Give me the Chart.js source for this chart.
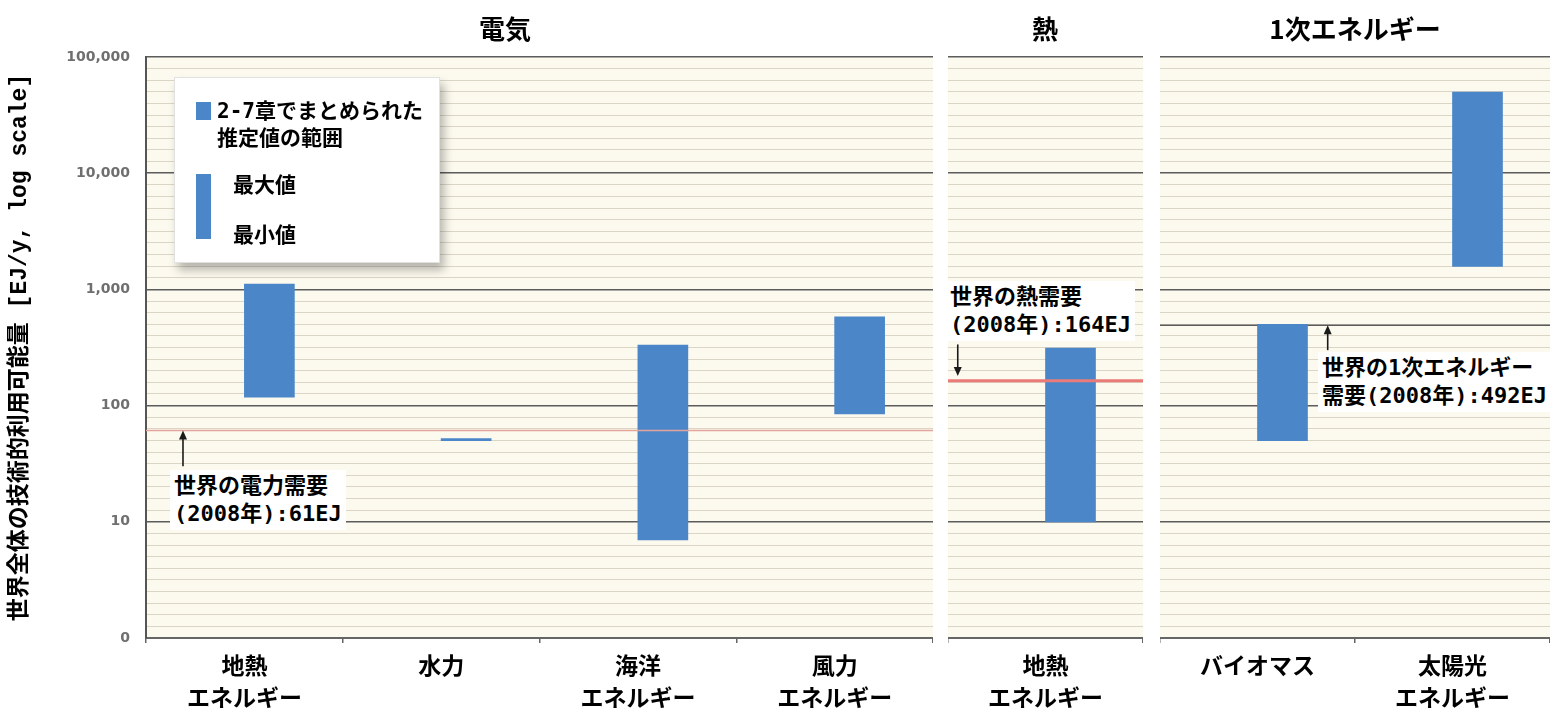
<!DOCTYPE html>
<html lang="ja">
<head>
<meta charset="utf-8">
<script src="https://cdn.jsdelivr.net/npm/chart.js@4.4.1/dist/chart.umd.min.js"></script>
<style>
html,body{margin:0;padding:0;background:#fff;}
body{width:1555px;height:716px;position:relative;overflow:hidden;font-family:"Noto Sans CJK JP",sans-serif;}
.cw{position:absolute;top:0;height:716px;}
.ptitle{position:absolute;top:11px;font-size:26px;font-weight:bold;line-height:34px;transform:translateX(-50%);white-space:nowrap;color:#000;}
.note{position:absolute;background:#fff;font-weight:bold;font-size:22px;line-height:28px;font-family:"DejaVu Sans Mono","Noto Sans CJK JP",monospace;white-space:nowrap;padding:2px 4px;color:#000;z-index:5;}
#legend{position:absolute;background:#fff;border:1px solid #e2e2e2;box-shadow:4px 7px 9px rgba(0,0,0,0.28);z-index:5;}
.lsw{position:absolute;background:#4a86c8;}
.ltx{position:absolute;font-weight:bold;font-size:21px;line-height:27px;font-family:"DejaVu Sans Mono","Noto Sans CJK JP",monospace;white-space:nowrap;color:#000;}
</style>
</head>
<body>
<div class="cw" style="left:0;width:933px;"><canvas id="c1"></canvas></div>
<div class="cw" style="left:948px;width:195px;"><canvas id="c2"></canvas></div>
<div class="cw" style="left:1160px;width:390px;"><canvas id="c3"></canvas></div>

<div class="ptitle" id="t1" style="left:505px;"></div>
<div class="ptitle" id="t2" style="left:1045px;"></div>
<div class="ptitle" id="t3" style="left:1355px;"></div>

<div id="legend" style="left:174px;top:77px;width:264px;height:184px;">
  <div class="lsw" style="left:21px;top:24px;width:15px;height:18px;"></div>
  <div class="ltx" style="left:42px;top:20px;">2-7章でまとめられた<br>推定値の範囲</div>
  <div class="lsw" style="left:21px;top:96px;width:15px;height:65px;"></div>
  <div class="ltx" style="left:58px;top:94px;">最大値</div>
  <div class="ltx" style="left:58px;top:144px;">最小値</div>
</div>

<div class="note" style="left:170px;top:470px;">世界の電力需要<br>(2008年):61EJ</div>
<div class="note" style="left:946px;top:281px;">世界の熱需要<br>(2008年):164EJ</div>
<div class="note" style="left:1318px;top:352px;">世界の1次エネルギー<br>需要(2008年):492EJ</div>

<script>
// ---- data ----
const panelTitles = ['電気', '熱', '1次エネルギー'];
const yAxisTitle = '世界全体の技術的利用可能量 [EJ/y, log scale]';

const elecCategories = [['地熱', 'エネルギー'], '水力', ['海洋', 'エネルギー'], ['風力', 'エネルギー']];
const elecMin = [118, 50, 7, 85];
const elecMax = [1109, 52, 331, 580];

const heatCategories = [['地熱', 'エネルギー']];
const heatMin = [10];
const heatMax = [312];

const primaryCategories = ['バイオマス', ['太陽光', 'エネルギー']];
const primaryMin = [50, 1575];
const primaryMax = [500, 49837];

const elecDemand = 61;
const heatDemand = 164;
const primaryDemand = 492;

const yTickValues = [1, 10, 100, 1000, 10000, 100000];
const yTickLabels = ['0', '10', '100', '1,000', '10,000', '100,000'];

// ---- styling ----
const STRIPES_PER_DECADE = 10;
const BAR_COLOR = '#4a86c8';
const CJK = '"Noto Sans CJK JP", sans-serif';

document.getElementById('t1').textContent = panelTitles[0];
document.getElementById('t2').textContent = panelTitles[1];
document.getElementById('t3').textContent = panelTitles[2];

Chart.defaults.font.family = CJK;
Chart.defaults.animation = false;

const isMajor = v => yTickValues.indexOf(v) >= 0;

const plotBg = {
  id: 'plotBg',
  beforeDraw(chart) {
    const {ctx, chartArea: a} = chart;
    ctx.save();
    ctx.fillStyle = '#fcf9ee';
    ctx.fillRect(a.left, a.top, a.right - a.left, a.bottom - a.top);
    ctx.restore();
  }
};

const arrowPlugin = {
  id: 'demandArrow',
  afterDatasetsDraw(chart, args, opts) {
    if (!opts || opts.at == null) return;
    const {ctx} = chart;
    const x = chart.scales.xLine.getPixelForValue(opts.at);
    const yFrom = chart.scales.y.getPixelForValue(opts.from);
    const yTo = chart.scales.y.getPixelForValue(opts.to);
    const dir = yTo < yFrom ? -1 : 1;
    ctx.save();
    ctx.strokeStyle = '#1a1a1a';
    ctx.fillStyle = '#1a1a1a';
    ctx.lineWidth = 1.6;
    ctx.beginPath();
    ctx.moveTo(x, yFrom);
    ctx.lineTo(x, yTo - dir * 6);
    ctx.stroke();
    ctx.beginPath();
    ctx.moveTo(x, yTo);
    ctx.lineTo(x - 4, yTo - dir * 9);
    ctx.lineTo(x + 4, yTo - dir * 9);
    ctx.closePath();
    ctx.fill();
    ctx.restore();
  }
};

function makeChart(id, cfg) {
  const first = !!cfg.first;
  return new Chart(document.getElementById(id), {
    type: 'bar',
    data: {
      labels: cfg.labels,
      datasets: [
        {
          type: 'line',
          data: [{x: 0, y: cfg.demand}, {x: 1, y: cfg.demand}],
          xAxisID: 'xLine',
          yAxisID: 'y',
          borderColor: cfg.demandColor,
          borderWidth: cfg.demandWidth,
          pointRadius: 0,
          fill: false,
          order: cfg.demandOnTop ? 0 : 2
        },
        {
          type: 'bar',
          data: cfg.mins.map((m, i) => [m, cfg.maxs[i]]),
          backgroundColor: BAR_COLOR,
          borderWidth: 0,
          barThickness: 50,
          xAxisID: 'x',
          yAxisID: 'y',
          order: 1
        }
      ]
    },
    options: {
      responsive: true,
      maintainAspectRatio: false,
      animation: false,
      layout: {padding: {top: 57, left: 0, right: 0, bottom: 0}},
      plugins: {
        legend: {display: false},
        tooltip: {enabled: false},
        title: {display: false},
        demandArrow: cfg.arrow
      },
      scales: {
        x: {
          type: 'category',
          offset: true,
          grid: {display: true, drawOnChartArea: false, drawTicks: true, tickLength: 5, color: '#666', lineWidth: 1.5},
          border: {display: true, color: '#666', width: 2},
          ticks: {color: '#000', font: {size: 23, weight: 'bold', lineHeight: 1.39, family: CJK}, padding: 6, maxRotation: 0, autoSkip: false},
          afterFit: a => { a.height = 78; }
        },
        xLine: {type: 'linear', min: 0, max: 1, offset: false, display: false},
        y: {
          type: 'logarithmic',
          min: yTickValues[0],
          max: yTickValues[yTickValues.length - 1],
          afterBuildTicks: axis => {
            const t = [];
            for (let d = 0; d < yTickValues.length - 1; d++) {
              for (let k = 0; k < STRIPES_PER_DECADE; k++) {
                t.push({value: k === 0 ? yTickValues[d] : yTickValues[d] * Math.pow(10, k / STRIPES_PER_DECADE)});
              }
            }
            t.push({value: yTickValues[yTickValues.length - 1]});
            axis.ticks = t;
          },
          grid: {
            drawTicks: false,
            color: c => (c.tick && isMajor(c.tick.value)) ? '#5c5c5c' : 'rgba(165,155,135,0.38)',
            lineWidth: c => (c.tick && isMajor(c.tick.value)) ? 1.6 : 1
          },
          border: {display: first, color: '#555', width: 2},
          ticks: {
            display: first,
            autoSkip: false,
            color: '#6f6f6f',
            font: {size: 14, weight: 'bold', family: '"DejaVu Sans", sans-serif'},
            padding: 16,
            callback: v => { const i = yTickValues.indexOf(v); return i >= 0 ? yTickLabels[i] : ''; }
          },
          title: {
            display: first,
            text: yAxisTitle,
            color: '#000',
            font: {size: 23, weight: 'bold', family: '"Liberation Mono", "Noto Sans CJK JP", monospace'},
            padding: {top: 6, bottom: 0}
          },
          afterFit: a => { a.width = first ? 146 : 0; }
        }
      }
    },
    plugins: [plotBg, arrowPlugin]
  });
}

makeChart('c1', {
  first: true,
  labels: elecCategories, mins: elecMin, maxs: elecMax,
  demand: elecDemand, demandColor: '#e3a49c', demandWidth: 1.5, demandOnTop: true,
  arrow: {at: 0.047, from: 30, to: elecDemand}
});
makeChart('c2', {
  labels: heatCategories, mins: heatMin, maxs: heatMax,
  demand: heatDemand, demandColor: '#ea7b78', demandWidth: 3, demandOnTop: true,
  arrow: {at: 0.05, from: 336, to: 180}
});
makeChart('c3', {
  labels: primaryCategories, mins: primaryMin, maxs: primaryMax,
  demand: primaryDemand, demandColor: '#5c5c5c', demandWidth: 1.6, demandOnTop: false,
  arrow: {at: 0.43, from: 300, to: primaryDemand}
});
</script>
</body>
</html>
